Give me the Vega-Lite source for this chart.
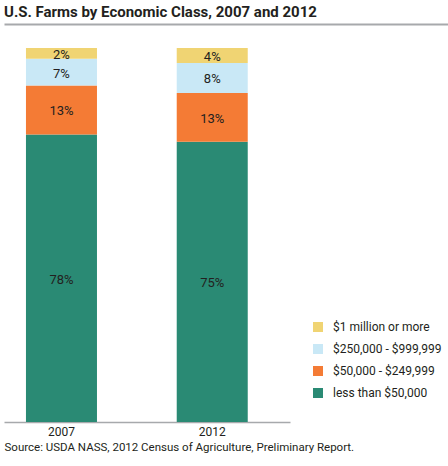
{
  "$schema": "https://vega.github.io/schema/vega-lite/v6.json",
  "padding": {"left": 4, "top": 5, "right": 0, "bottom": 0},
  "autosize": {"type": "pad"},
  "title": {"text": "U.S. Farms by Economic Class, 2007 and 2012", "anchor": "start", "fontSize": 15, "fontWeight": "bold", "color": "#231f20", "offset": 4, "font": "Roboto"},
  "config": {
    "font": "Roboto",
    "view": {"stroke": null}
  },
  "spacing": 23,
  "vconcat": [
    {
      "width": 444,
      "height": 1,
      "data": {"values": [{"a": 0}]},
      "mark": {"type": "point", "opacity": 0, "size": 0},
      "encoding": {
        "x": {"field": "a", "type": "quantitative", "axis": {"orient": "top", "domainColor": "#a7a9ac", "domainWidth": 2, "ticks": false, "labels": false, "grid": false, "title": null}}
      }
    },
    {
      "width": 286,
      "height": 374,
      "data": {"values": [
        {"year": "2007", "class": "less than $50,000", "pct": 76.9, "label": "78%", "order": 1},
        {"year": "2007", "class": "$50,000 - $249,999", "pct": 13.1, "label": "13%", "order": 2},
        {"year": "2007", "class": "$250,000 - $999,999", "pct": 7.1, "label": "7%", "order": 3},
        {"year": "2007", "class": "$1 million or more", "pct": 2.9, "label": "2%", "order": 4},
        {"year": "2012", "class": "less than $50,000", "pct": 74.9, "label": "75%", "order": 1},
        {"year": "2012", "class": "$50,000 - $249,999", "pct": 13.1, "label": "13%", "order": 2},
        {"year": "2012", "class": "$250,000 - $999,999", "pct": 8.0, "label": "8%", "order": 3},
        {"year": "2012", "class": "$1 million or more", "pct": 4.0, "label": "4%", "order": 4}
      ]},
      "transform": [
        {"stack": "pct", "groupby": ["year"], "sort": [{"field": "order", "order": "ascending"}], "as": ["y0", "y1"]}
      ],
      "encoding": {
        "x": {"field": "year", "type": "nominal",
          "scale": {"paddingInner": 0.529, "paddingOuter": 0.213, "align": 0.342},
          "axis": {"labelAngle": 0, "labelFontSize": 12, "labelColor": "#231f20", "labelPadding": 4, "domainColor": "#a7a9ac", "domainWidth": 1.5, "ticks": false,
            "title": "Source: USDA NASS, 2012 Census of Agriculture, Preliminary Report.", "titleFontSize": 11.5, "titleFontWeight": "normal", "titleColor": "#231f20", "titleAnchor": "start", "titlePadding": 4}}
      },
      "layer": [
        {
          "mark": {"type": "bar"},
          "encoding": {
            "y": {"field": "y0", "type": "quantitative", "scale": {"domain": [0, 100], "nice": false}, "axis": null},
            "y2": {"field": "y1"},
            "color": {"field": "class", "type": "nominal",
              "scale": {"domain": ["$1 million or more", "$250,000 - $999,999", "$50,000 - $249,999", "less than $50,000"], "range": ["#f0d473", "#c9e8f6", "#f47b35", "#2a8a74"]},
              "legend": {"orient": "none", "legendX": 308, "legendY": 297, "title": null, "symbolType": "square", "symbolSize": 100, "symbolStrokeWidth": 0, "labelFontSize": 12, "labelColor": "#231f20", "labelOffset": 9, "rowPadding": 10, "padding": 0}
            }
          }
        },
        {
          "transform": [
            {"fold": ["y0", "y1"], "as": ["k", "v"]}
          ],
          "mark": {"type": "text", "fontSize": 13, "color": "#231f20", "dy": 1.5},
          "encoding": {
            "y": {"field": "v", "aggregate": "mean", "type": "quantitative", "scale": {"domain": [0, 100], "nice": false}, "axis": null},
            "text": {"field": "label", "type": "nominal"},
            "detail": {"field": "class", "type": "nominal"}
          }
        }
      ]
    }
  ]
}
